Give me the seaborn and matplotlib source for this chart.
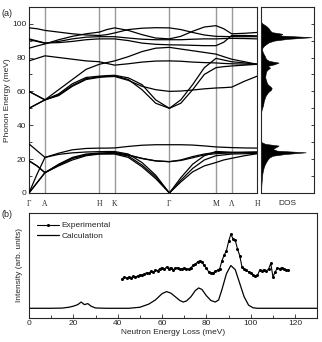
import matplotlib
matplotlib.use("Agg")
import matplotlib.pyplot as plt
import numpy as np
import pandas as pd
import seaborn as sns

sns.set_style("ticks")
plt.rcParams['font.family'] = ['Liberation Sans', 'DejaVu Sans']

# ---- (a) phonon dispersion ----
k_path = [0, 0.035, 0.070, 0.13, 0.19, 0.25, 0.308, 0.341, 0.375, 0.435, 0.495,
          0.555, 0.615, 0.665, 0.717, 0.768, 0.819, 0.853, 0.888, 0.944, 1.0]
sym_pos = [0, 0.070, 0.308, 0.375, 0.615, 0.819, 0.888, 1.0]
sym_labels = ["Γ", "A", "H", "K", "Γ", "M", "Λ", "H"]

band_1 = [0, 6, 12, 16, 19.5, 22, 23, 23, 23, 21, 15.5, 8.5, 0, 6.5, 12.5, 16, 18, 19.5, 20.5, 22, 23.2]
band_2 = [0, 6, 12, 16.5, 20.5, 22.5, 23.2, 23.3, 23.4, 21.8, 16.5, 9.5, 0, 7.5, 14.5, 19.5, 22, 22.5, 23, 23.2, 23.4]
band_3 = [0, 11, 21, 22.8, 23.7, 24.2, 24.4, 24.5, 24.5, 23, 18, 10.5, 0, 9, 17, 22, 24.5, 24.3, 24.1, 24, 24]
band_4 = [19, 16, 12, 17, 21, 23, 23.6, 23.8, 24, 22.5, 20.5, 19, 18.5, 19.5, 21.5, 23, 24, 23.8, 23.8, 24, 24.2]
band_5 = [19, 16, 12, 16.5, 20.5, 22.5, 23.3, 23.4, 23.6, 22.3, 20.3, 18.9, 18.5, 19.2, 20.8, 22.5, 23.2, 23.5, 23.7, 23.9, 24]
band_6 = [29, 25, 21, 23.5, 25.5, 26.3, 26.5, 26.5, 26.6, 27.5, 28.2, 28.5, 28.5, 28.5, 28.3, 27.8, 27.2, 27, 26.8, 26.6, 26.5]
band_7 = [50, 52.5, 55, 58.5, 64.5, 68.2, 69, 69.3, 69.5, 68, 64, 55, 50, 55, 64, 74, 79.5, 78.5, 77.5, 76.8, 76]
band_8 = [50, 52.5, 55, 58, 63.5, 67.5, 68.6, 68.9, 69.2, 67, 61, 53, 50, 53, 61, 70, 74, 74.6, 75, 75.5, 76]
band_9 = [60, 57.5, 55, 57.5, 63, 67, 68.3, 68.6, 68.8, 66.5, 63, 61, 60, 60.2, 60.8, 61.5, 62, 62.2, 62.5, 66, 69]
band_10 = [60, 57.5, 55, 61, 67, 73, 76, 77, 78, 80.5, 83.5, 85.5, 86, 85, 84, 83, 82, 80.5, 79, 77.5, 76]
band_11 = [78, 79.5, 81, 80, 79, 78, 77.5, 76.5, 75.5, 76.3, 77.3, 77.9, 78, 77.8, 77.3, 77, 76.8, 76.5, 76.3, 76.1, 76]
band_12 = [97.5, 97, 96, 95, 94, 93.3, 93, 93.5, 94.5, 96.5, 97.3, 97.6, 97.5, 96.5, 94.8, 93.3, 92.5, 92.4, 92.3, 92.3, 92.3]
band_13 = [85.5, 86.8, 88, 90.5, 92.5, 94, 95, 96.5, 97.5, 96, 93.5, 91.5, 91, 92.5, 95.5, 98, 98.8, 97, 94, 94.3, 94.8]
band_14 = [90.5, 89.5, 88.4, 89.5, 91, 92, 92.3, 92.3, 92.3, 91.5, 90.8, 90.5, 90.5, 90.5, 90.8, 91, 91, 91.2, 91.3, 91.2, 91]
band_15 = [91, 89.8, 88.6, 88.8, 89.5, 90.5, 91, 91, 91, 90, 88.5, 87.8, 87.5, 87.4, 87.2, 87, 87, 89, 93, 93, 92.8]
bands = [band_1, band_2, band_3, band_4, band_5, band_6, band_7, band_8, band_9,
         band_10, band_11, band_12, band_13, band_14, band_15]

# ---- DOS (1 meV steps) ----
dos_energy = list(range(0, 102))
dos_value = [0, 0, 0.002, 0.003, 0.005, 0.007, 0.01, 0.012, 0.015, 0.018,
             0.02, 0.024, 0.028, 0.035, 0.042, 0.05, 0.06, 0.075, 0.09, 0.11,
             0.13, 0.16, 0.22, 0.45, 0.84, 0.3, 0.22, 0.28, 0.33, 0.08,
             0.01, 0, 0, 0, 0, 0, 0, 0, 0, 0,
             0, 0, 0, 0, 0, 0, 0, 0, 0.005, 0.01,
             0.02, 0.03, 0.04, 0.045, 0.05, 0.06, 0.07, 0.08, 0.1, 0.12,
             0.15, 0.19, 0.2, 0.17, 0.13, 0.11, 0.1, 0.09, 0.08, 0.08,
             0.085, 0.09, 0.1, 0.13, 0.17, 0.12, 0.25, 0.33, 0.15, 0.1,
             0.08, 0.07, 0.05, 0.035, 0.025, 0.02, 0.03, 0.06, 0.1, 0.15,
             0.25, 0.5, 0.95, 0.35, 0.4, 0.2, 0.17, 0.15, 0.12, 0.08,
             0.03, 0]

# ---- (b) neutron spectrum ----
calc_energy = [0, 10, 15, 18, 20, 22, 23.5, 25, 26.5, 28, 30, 35, 40, 45, 50, 54, 57, 60, 62,
               64, 66, 68, 69.5, 71, 73, 75, 76.5, 78, 80, 82, 84, 85.5, 87, 89, 91, 93,
               95, 97, 99, 101, 103, 130]
calc_intensity = [0.09, 0.09, 0.092, 0.1, 0.11, 0.125, 0.15, 0.125, 0.135, 0.11, 0.093, 0.09,
                  0.09, 0.09, 0.1, 0.13, 0.17, 0.23, 0.25, 0.235, 0.2, 0.165, 0.15, 0.16,
                  0.2, 0.26, 0.285, 0.27, 0.21, 0.165, 0.15, 0.17, 0.27, 0.42, 0.5, 0.46,
                  0.33, 0.2, 0.12, 0.095, 0.09, 0.09]
exp_energy = list(range(42, 118))
exp_intensity = [0.375, 0.385, 0.38, 0.39, 0.383, 0.395, 0.39, 0.4, 0.41, 0.405,
                 0.42, 0.43, 0.425, 0.445, 0.435, 0.455, 0.45, 0.47, 0.48, 0.465,
                 0.485, 0.47, 0.48, 0.46, 0.475, 0.48, 0.465, 0.47, 0.475, 0.47,
                 0.465, 0.48, 0.5, 0.51, 0.535, 0.545, 0.53, 0.5, 0.475, 0.44,
                 0.43, 0.43, 0.445, 0.455, 0.47, 0.545, 0.6, 0.64, 0.73, 0.8,
                 0.755, 0.74, 0.66, 0.595, 0.49, 0.47, 0.455, 0.44, 0.43, 0.41,
                 0.4, 0.405, 0.455, 0.45, 0.46, 0.45, 0.465, 0.52, 0.39, 0.44,
                 0.475, 0.47, 0.48, 0.47, 0.46, 0.455]

fs = 6
fig = plt.figure(figsize=(3.22, 3.42), dpi=100)
ax_a = fig.add_axes([0.090, 0.4357, 0.709, 0.5447])
ax_d = fig.add_axes([0.8106, 0.4357, 0.1655, 0.5447])
ax_b = fig.add_axes([0.090, 0.0711, 0.8955, 0.3052])

for x in sym_pos[1:-1]:
    ax_a.axvline(x, color="#999999", lw=1.0, zorder=1)
for band in bands:
    sns.lineplot(x=k_path, y=band, ax=ax_a, color="black", lw=0.9, sort=False, zorder=3)
ax_a.set_xlim(0, 1)
ax_a.set_ylim(0, 110)
ax_a.set_xticks(sym_pos)
ax_a.set_xticklabels(sym_labels, family="Liberation Serif", fontsize=5.5)
ax_a.set_yticks([0, 20, 40, 60, 80, 100])
ax_a.set_yticks(range(10, 110, 20), minor=True)
ax_a.tick_params(axis="x", length=0, pad=5)
ax_a.tick_params(axis="y", which="both", direction="in", labelsize=fs, pad=2, width=0.6)
ax_a.tick_params(axis="y", which="major", length=3)
ax_a.tick_params(axis="y", which="minor", length=2)
ax_a.set_ylabel("Phonon Energy (meV)", fontsize=fs, labelpad=1)
for s in ax_a.spines.values():
    s.set_linewidth(0.8)

ax_d.fill_betweenx(dos_energy, 0, dos_value, color="black", lw=0.4)
ax_d.set_xlim(0, 1)
ax_d.set_ylim(0, 110)
ax_d.set_xticks([])
ax_d.set_xlabel("DOS", fontsize=fs, labelpad=5)
ax_d.yaxis.tick_right()
ax_d.set_yticks(range(0, 110, 10))
ax_d.tick_params(axis="y", direction="in", length=2, width=0.6, labelright=False)
for s in ax_d.spines.values():
    s.set_linewidth(0.8)

sns.lineplot(x=calc_energy, y=calc_intensity, ax=ax_b, color="black", lw=0.9, label="Calculation")
sns.lineplot(x=exp_energy, y=exp_intensity, ax=ax_b, color="black", lw=0.8, marker="o",
             markersize=2.2, markeredgewidth=0, label="Experimental")
ax_b.set_xlim(0, 130)
ax_b.set_ylim(0, 1)
ax_b.set_yticks([])
ax_b.set_xticks(range(0, 140, 20))
ax_b.set_xticks(range(10, 130, 20), minor=True)
ax_b.tick_params(axis="x", which="both", direction="in", labelsize=fs, pad=2, width=0.6)
ax_b.tick_params(axis="x", which="major", length=3)
ax_b.tick_params(axis="x", which="minor", length=2)
ax_b.set_xlabel("Neutron Energy Loss (meV)", fontsize=fs, labelpad=1)
ax_b.set_ylabel("Intensity (arb. units)", fontsize=fs, labelpad=4)
handles, labels = ax_b.get_legend_handles_labels()
ax_b.legend(handles[::-1], labels[::-1], loc="upper left", frameon=False, fontsize=fs,
            handlelength=2.6, handletextpad=0.3, labelspacing=0.3, borderaxespad=0.6)
for s in ax_b.spines.values():
    s.set_linewidth(0.8)

fig.text(0.006, 0.975, "(a)", fontsize=6.5, va="top")
fig.text(0.006, 0.385, "(b)", fontsize=6.5, va="top")

fig.savefig("out.png", dpi=100)
